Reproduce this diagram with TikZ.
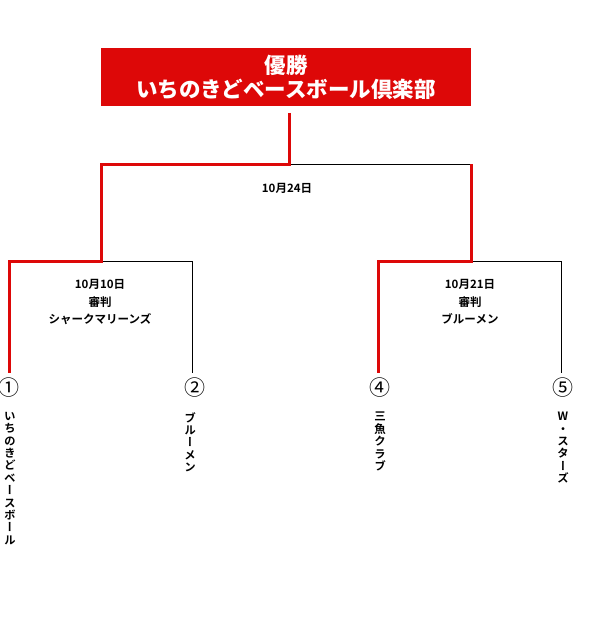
\documentclass[tikz,border=0pt]{standalone}
\usepackage{fontspec}
\setmainfont{Noto Sans CJK JP}
\newfontfamily\jpmed{Noto Sans CJK JP Bold}
\newfontfamily\jpvert{Noto Sans CJK JP Bold}[RawFeature=+vert]
\definecolor{winred}{RGB}{221,8,8}

\begin{document}
\begin{tikzpicture}[x=1pt,y=-1pt,
  redline/.style={draw=winred, line width=3pt, line join=miter},
  blackline/.style={draw=black, line width=0.9pt},
  datelabel/.style={font=\jpmed\fontsize{11.5}{17.5}\selectfont, align=center},
  seed/.style={font=\fontsize{21}{21}\selectfont, inner sep=0pt},
  team/.style={font=\jpvert\fontsize{11.5}{12.4}\selectfont, align=center, anchor=north, inner sep=0pt}]
\useasboundingbox (0,0) rectangle (600,623);

\node[fill=winred, text=white, minimum width=370pt, minimum height=58pt, inner sep=0pt,
  align=center, font=\fontsize{21.5}{24}\selectfont\bfseries] (W) at (286,77)
  {優勝\\いちのきどベースボール倶楽部};

% bracket corners
\coordinate (F0) at (289,113);
\coordinate (F1) at (289,164);
\coordinate (FL) at (101,164);
\coordinate (FR) at (471,164);
\coordinate (SL) at (101,261);
\coordinate (SR) at (471,261);

\coordinate (A1) at (9,261);
\coordinate (A2) at (192,261);
\coordinate (A4) at (378,261);
\coordinate (A5) at (561,261);

\coordinate (B1) at (9,373);
\coordinate (B2) at (192,373);
\coordinate (B4) at (378,373);
\coordinate (B5) at (561,373);

\draw[blackline] (F1) -- (FR);
\draw[blackline] (SL) -- (A2) -- (B2);
\draw[blackline] (SR) -- (A5) -- (B5);

\draw[redline] (F0) -- (F1) -- (FL) -- (SL) -- (A1) -- (B1);
\draw[redline] (FR) -- (SR) -- (A4) -- (B4);

\node[datelabel] (D0) at (287,188) {10月24日};
\node[datelabel] (D1) at (100,302) {10月10日\\審判\\シャークマリーンズ};
\node[datelabel] (D2) at (470,302) {10月21日\\審判\\ブルーメン};

\node[seed] (N1) at (9,388) {①};
\node[seed] (N2) at (195,388) {②};
\node[seed] (N4) at (380,388) {④};
\node[seed] (N5) at (563,388) {⑤};

\node[team] (T1) at (10,412) {い\\ち\\の\\き\\ど\\ベ\\ー\\ス\\ボ\\ー\\ル};
\node[team] (T2) at (190,412) {ブ\\ル\\ー\\メ\\ン};
\node[team] (T4) at (380,412) {三\\魚\\ク\\ラ\\ブ};
\node[team] (T5) at (563,412) {W\\・\\ス\\タ\\ー\\ズ};
\end{tikzpicture}
\end{document}
